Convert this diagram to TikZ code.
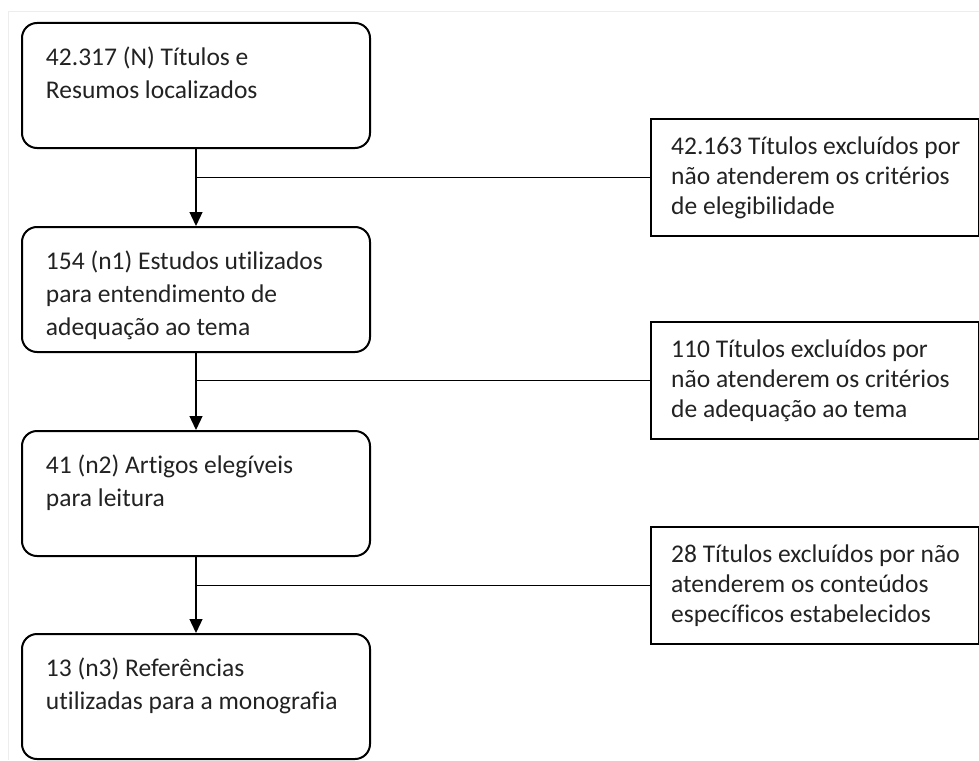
\documentclass[tikz,border=0pt]{standalone}
\usepackage{fontspec}
\setmainfont{Carlito}[Ligatures=NoCommon]
\usetikzlibrary{arrows.meta}
\definecolor{txt}{HTML}{222222}
\newcommand{\lboxtext}[1]{\parbox[c][125pt][t]{348pt}{\raggedright\leftskip=24pt\rule{0pt}{42pt}#1}}
\newcommand{\rboxtext}[1]{\parbox[c][117pt][t]{328pt}{\raggedright\leftskip=20pt\rule{0pt}{35pt}#1}}
\tikzset{
  stage/.style={draw=black, line width=2pt, rounded corners=15pt, inner sep=0pt,
    anchor=north west, text=txt, font=\fontsize{25.5pt}{33pt}\selectfont},
  excl/.style={draw=black, line width=2.4pt, inner sep=0pt,
    anchor=north west, text=txt, font=\fontsize{25.5pt}{30pt}\selectfont},
  flow/.style={draw=black, line width=1.3pt, -{Triangle[length=14pt,width=13pt]}},
  branch/.style={draw=black, line width=1.3pt}
}
\begin{document}
\begin{tikzpicture}[x=1pt,y=-1pt]
\useasboundingbox (0,0) rectangle (979,760);
\draw[black!7, line width=1pt] (8,760) -- (8,12) -- (979,12);

\node[stage] (b1) at (21,22) {\lboxtext{42.317 (N) Títulos e\\Resumos localizados}};
\node[stage] (b2) at (21,226) {\lboxtext{154 (n1) Estudos utilizados\\para entendimento de\\adequação ao tema}};
\node[stage] (b3) at (21,430) {\lboxtext{41 (n2) Artigos elegíveis\\para leitura}};
\node[stage] (b4) at (21,633) {\lboxtext{13 (n3) Referências\\utilizadas para a monografia}};

\node[excl] (r1) at (650,118) {\rboxtext{42.163 Títulos excluídos por\\não atenderem os critérios\\de elegibilidade}};
\node[excl] (r2) at (650,321) {\rboxtext{110 Títulos excluídos por\\não atenderem os critérios\\de adequação ao tema}};
\node[excl] (r3) at (650,526) {\rboxtext{28 Títulos excluídos por não\\atenderem os conteúdos\\específicos estabelecidos}};

\coordinate (j1) at (b1.south |- r1.west);
\coordinate (j2) at (b2.south |- r2.west);
\coordinate (j3) at (b3.south |- r3.west);

\draw[flow] (b1.south) -- (b2.north);
\draw[flow] (b2.south) -- (b3.north);
\draw[flow] (b3.south) -- (b4.north);

\draw[branch] (j1) -- (r1.west);
\draw[branch] (j2) -- (r2.west);
\draw[branch] (j3) -- (r3.west);
\end{tikzpicture}
\end{document}
